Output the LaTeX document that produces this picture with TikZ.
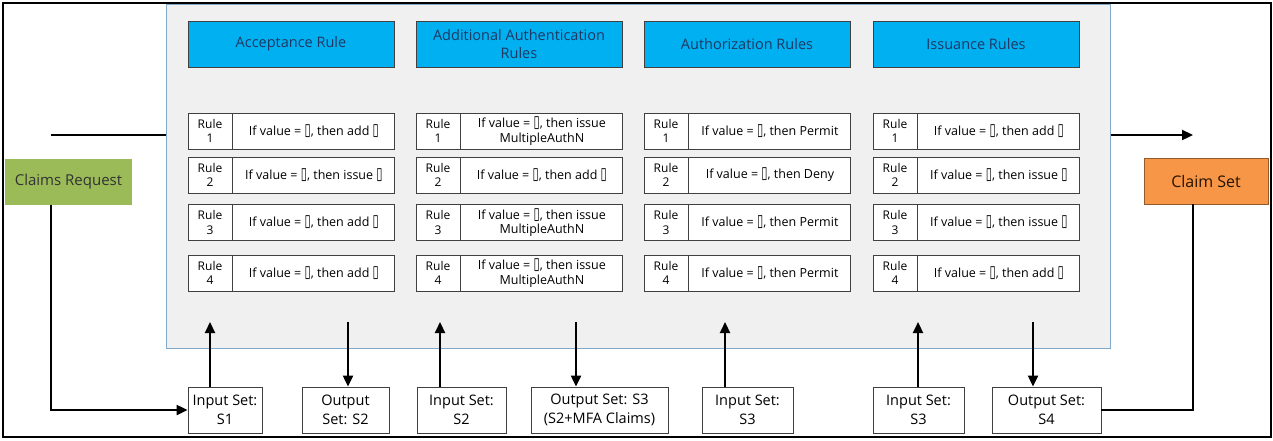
\documentclass[tikz,border=0pt]{standalone}
\usepackage{fontspec}
\usepackage{graphicx}
\setmainfont{Open Sans}
\newfontfamily\symfont{DejaVu Sans}
\usetikzlibrary{arrows.meta,positioning}

\definecolor{hdrblue}{HTML}{00B0F0}
\definecolor{hdrtext}{HTML}{1F3864}
\definecolor{reqgreen}{HTML}{9BBB59}
\definecolor{setorange}{HTML}{F79646}
\definecolor{panelgray}{HTML}{F0F0F0}
\definecolor{panelline}{HTML}{7FAACB}
\definecolor{boxline}{HTML}{404040}

% rule texts
\newcommand{\tofu}{{\symfont\scalebox{0.9}[1.35]{▯}}}
\newcommand{\ruleadd}{If value = \tofu, then add \tofu}
\newcommand{\ruleissue}{If value = \tofu, then issue \tofu}
\newcommand{\ruleauthn}{If value = \tofu, then issue\\MultipleAuthN}
\newcommand{\rulepermit}{If value = \tofu, then Permit}
\newcommand{\ruledeny}{If value = \tofu, then Deny}

\begin{document}
\begin{tikzpicture}[x=1pt, y=-1pt, >={Triangle[length=11pt,width=10pt]},
    header/.style={draw=boxline, line width=0.9pt, fill=hdrblue, text=hdrtext,
        minimum width=206pt, minimum height=46pt, inner sep=0pt, align=center,
        font=\fontsize{14.5}{18}\selectfont},
    numcell/.style={draw=boxline, line width=0.9pt, fill=white, minimum width=44pt,
        minimum height=36pt, inner sep=0pt, align=center, font=\fontsize{12}{14.5}\selectfont},
    rulecell/.style={draw=boxline, line width=0.9pt, fill=white, minimum width=162pt,
        minimum height=36pt, inner sep=0pt, align=center, font=\fontsize{12.5}{14.5}\selectfont},
    setbox/.style={draw=boxline, line width=0.9pt, fill=white, minimum height=46pt,
        inner sep=0pt, align=center, font=\fontsize{14.5}{19}\selectfont},
    endbox/.style={line width=0.9pt, minimum height=46pt, inner sep=0pt,
        font=\fontsize{15}{17}\selectfont},
    flow/.style={line width=2.2pt}]
    \useasboundingbox (0,0) rectangle (1273,440);

    % outer frame and rule engine panel
    \draw[line width=1.3pt] (3,3) rectangle (1271,437);
    \node[draw=panelline, fill=panelgray, line width=1pt, minimum width=944pt,
        minimum height=344pt, inner sep=0pt] (panel) at (638,176) {};

    % headers and rules, one column per stage
    \foreach \c/\x/\h/\ta/\tb/\tc/\td in {
        acc/188/{Acceptance Rule}/\ruleadd/\ruleissue/\ruleadd/\ruleadd,
        mfa/416/{Additional Authentication\\Rules}/\ruleauthn/\ruleadd/\ruleauthn/\ruleauthn,
        authz/644/{Authorization Rules}/\rulepermit/\ruledeny/\rulepermit/\rulepermit,
        iss/873/{Issuance Rules}/\ruleadd/\ruleissue/\ruleissue/\ruleadd} {
        \node[header] (\c-h) at (\x+103,44) {\h};
        \foreach \i/\y/\t in {1/131/\ta, 2/175/\tb, 3/222.5/\tc, 4/273/\td} {
            \node[numcell] (\c-n\i) at (\x+22,\y) {Rule\\\i};
            \node[rulecell, right=0pt of \c-n\i] (\c-r\i) {\t};
        }
    }

    % claims request and claim set
    \node[endbox, fill=reqgreen, text=black!80, minimum width=127pt] (req) at (68.5,181.5) {Claims Request};
    \node[endbox, draw=setorange!60!black, fill=setorange, text=black!85!orange, minimum width=124pt,
        font=\fontsize{16}{18}\selectfont] (cset) at (1206,181) {Claim Set};

    % input and output sets
    \node[setbox, minimum width=74pt] (in1) at (225,410) {Input Set:\\S1};
    \node[setbox, minimum width=87pt] (out2) at (345.5,410) {Output\\Set: S2};
    \node[setbox, minimum width=89pt] (in2) at (461.5,410) {Input Set:\\S2};
    \node[setbox, minimum width=137pt] (out3) at (599.5,410) {Output Set: S3\\(S2+MFA Claims)};
    \node[setbox, minimum width=91pt] (in3) at (747.5,410) {Input Set:\\S3};
    \node[setbox, minimum width=91pt] (in4) at (918.5,410) {Input Set:\\S3};
    \node[setbox, minimum width=109pt] (out4) at (1046.5,410) {Output Set:\\S4};

    % arrows into and out of the panel
    \coordinate (a1) at (210,322);
    \coordinate (a2) at (348,322);
    \coordinate (a3) at (440,322);
    \coordinate (a4) at (576,322);
    \coordinate (a5) at (725,322);
    \coordinate (a6) at (918,322);
    \coordinate (a7) at (1033,322);
    \draw[flow, ->] (in1.north -| a1) -- (a1);
    \draw[flow, ->] (a2) -- (out2.north -| a2);
    \draw[flow, ->] (in2.north -| a3) -- (a3);
    \draw[flow, ->] (a4) -- (out3.north -| a4);
    \draw[flow, ->] (in3.north -| a5) -- (a5);
    \draw[flow, ->] (in4.north -| a6) -- (a6);
    \draw[flow, ->] (a7) -- (out4.north -| a7);

    % request path and final claim set path
    \coordinate (rq) at (51,135);
    \coordinate (cs) at (1193,135);
    \draw[flow] (rq) -- (rq -| panel.west);
    \draw[flow, ->] (rq |- req.south) |- (in1.west);
    \draw[flow, ->] (cs -| panel.east) -- (cs);
    \draw[flow] (out4.east) -| (cs |- cset.south);
\end{tikzpicture}
\end{document}
